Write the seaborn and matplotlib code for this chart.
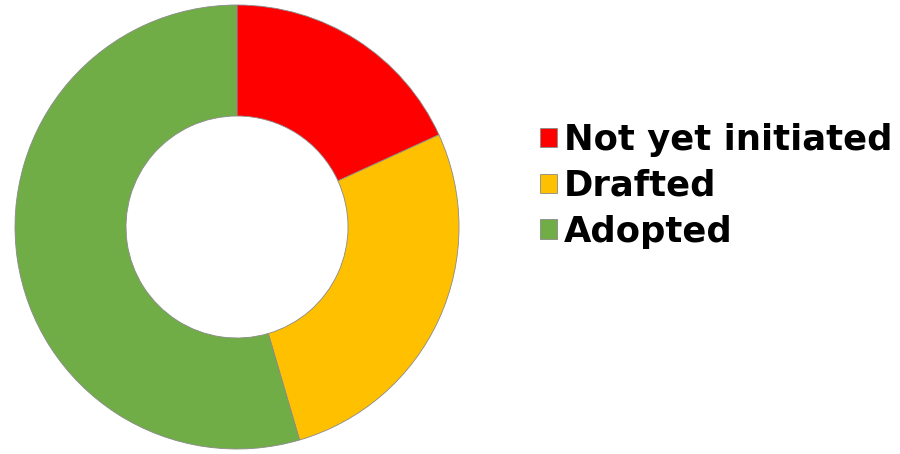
import matplotlib
matplotlib.use("Agg")
import matplotlib.pyplot as plt
import seaborn as sns

# データ
labels = ["Not yet initiated", "Drafted", "Adopted"]
counts = [2, 3, 6]
colors = ["#FF0000", "#FFC000", "#70AD47"]

sns.set_theme(style="white")
plt.rcParams["font.family"] = ["DejaVu Sans"]

fig = plt.figure(figsize=(9, 4.54), dpi=100)
ax = fig.add_axes([15 / 900, 5 / 454, 444 / 900, 444 / 454])

wedges, _ = ax.pie(counts, colors=colors, startangle=90, counterclock=False,
                   radius=1, wedgeprops=dict(width=0.5, edgecolor="#8a8a8a", linewidth=0.6))
ax.set_xlim(-1, 1)
ax.set_ylim(-1, 1)
ax.set_aspect("equal")

# 凡例
leg = fig.legend(wedges, labels, loc="center left",
                 bbox_to_anchor=(526 / 900, (454 - 186) / 454),
                 frameon=False, handlelength=0.47, handleheight=0.47, handletextpad=0.2,
                 labelspacing=0.33, borderaxespad=0, labelcolor="black",
                 prop=dict(family="DejaVu Sans", weight="bold", size=25.5))

fig.savefig("out.png", dpi=100, facecolor="white")
